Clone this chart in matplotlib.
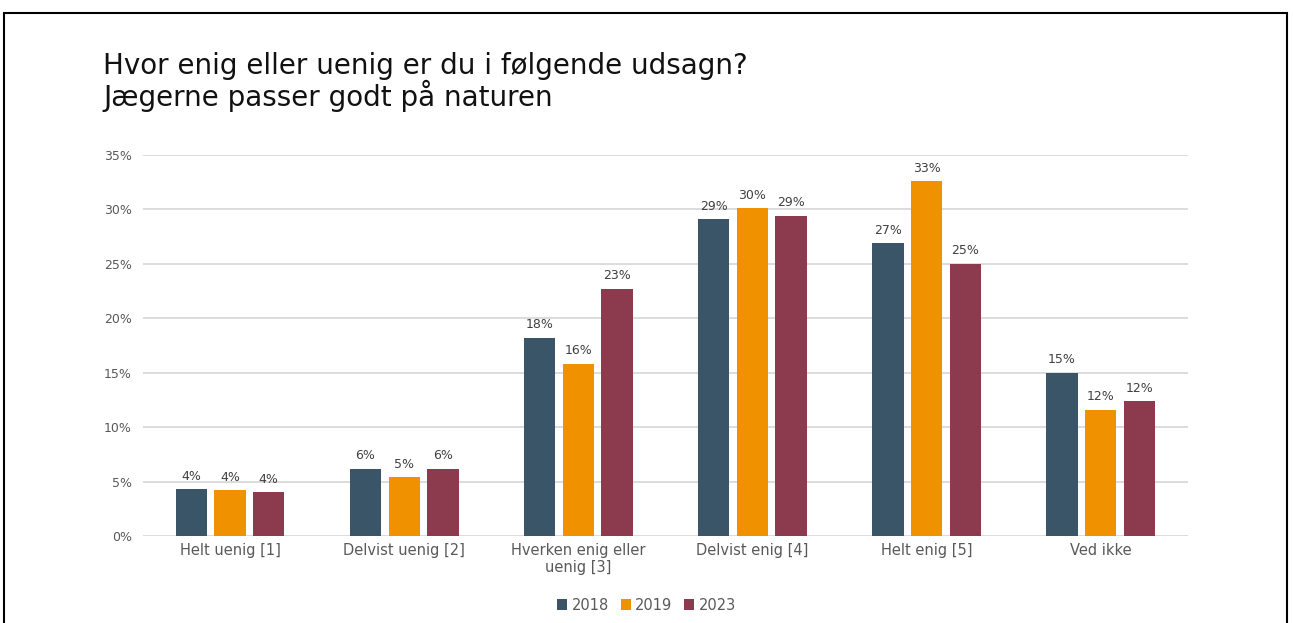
import matplotlib.pyplot as plt
from matplotlib.patches import Rectangle
import numpy as np

categories = ['Helt uenig [1]', 'Delvist uenig [2]', 'Hverken enig eller\nuenig [3]',
              'Delvist enig [4]', 'Helt enig [5]', 'Ved ikke']
years = ['2018', '2019', '2023']
v2018 = [4.3, 6.2, 18.2, 29.1, 26.9, 15.0]
v2019 = [4.2, 5.4, 15.8, 30.1, 32.6, 11.6]
v2023 = [4.0, 6.2, 22.7, 29.4, 25.0, 12.4]
colors = ['#3A5567', '#F09100', '#8C3B4E']

plt.rcParams['font.family'] = ['DejaVu Sans']

fig = plt.figure(figsize=(12.93, 6.23), dpi=100)
ax = fig.add_axes([0.1106, 0.1396, 0.808, 0.6116])

x = np.arange(len(categories))
width = 0.18
step = 0.222
for i, (vals, year) in enumerate(zip([v2018, v2019, v2023], years)):
    pos = x + (i - 1) * step
    ax.bar(pos, vals, width, color=colors[i], label=year, zorder=3)
    for p, v in zip(pos, vals):
        ax.text(p, v + 0.6, f'{round(v):.0f}%', ha='center', va='bottom',
                fontsize=9, color='#404040')

ax.set_ylim(0, 35)
ax.set_xlim(-0.5, len(categories) - 0.5)
ax.set_yticks(range(0, 36, 5))
ax.set_yticklabels([f'{t}%' for t in range(0, 36, 5)], fontsize=9, color='#595959')
ax.set_xticks(x)
ax.set_xticklabels(categories, fontsize=10.5, color='#595959', linespacing=1.15)
ax.tick_params(length=0)
ax.tick_params(axis='y', pad=8)
ax.tick_params(axis='x', pad=5)
ax.grid(axis='y', color='#D9D9D9', linewidth=1.3, zorder=0)
for s in ax.spines.values():
    s.set_visible(False)

fig.text(103 / 1293, 1 - 52 / 623, 'Hvor enig eller uenig er du i følgende udsagn?\nJægerne passer godt på naturen',
         fontsize=20, va='top', ha='left', color='#111111', linespacing=0.98)

leg = fig.legend(loc='center', bbox_to_anchor=(0.5, 1 - 605 / 623), ncol=3, frameon=False,
                 handlelength=0.7, handleheight=0.7, handletextpad=0.3, columnspacing=0.8,
                 fontsize=10.5)
for t in leg.get_texts():
    t.set_color('#595959')

fig.patches.append(Rectangle((4 / 1293, -0.05), 1283 / 1293, 1.05 - 13 / 623,
                             transform=fig.transFigure, fill=False, edgecolor='black',
                             linewidth=1.5, clip_on=False))

fig.savefig('out.png', dpi=100)
